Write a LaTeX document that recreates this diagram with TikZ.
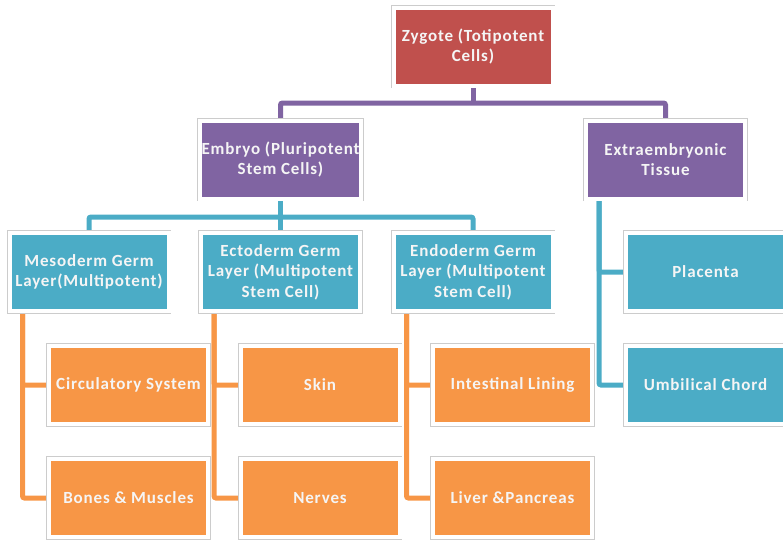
\documentclass[tikz,border=0pt]{standalone}
\usepackage{fontspec}
\setmainfont{Carlito}[LetterSpace=5]
\usepackage{tikz}
\usetikzlibrary{backgrounds}

\definecolor{zygred}{HTML}{C0504D}
\definecolor{embpurple}{HTML}{8064A2}
\definecolor{germblue}{HTML}{4BACC6}
\definecolor{organorange}{HTML}{F79646}

\begin{document}
\begin{tikzpicture}[x=1pt, y=-1pt,
    cell/.style={draw=white, line width=4, minimum width=159, minimum height=78, inner sep=2,
        align=center, text=white!96!black, font=\fontsize{17}{20.5}\selectfont\bfseries,
        preaction={draw=black!20, line width=5.5}},
    link/.style={line width=5, rounded corners=2}]
    \useasboundingbox (0,0) rectangle (783,539);

    \node[cell, fill=zygred] (zyg) at (473,46.5) {Zygote (Totipotent\\Cells)};
    \node[cell, fill=embpurple] (emb) at (280.5,159.5) {Embryo (Pluripotent\\Stem Cells)};
    \node[cell, fill=embpurple] (ext) at (665.5,159.5) {Extraembryonic\\Tissue};

    \node[cell, fill=germblue] (meso) at (89,272) {Mesoderm Germ\\Layer(Multipotent)};
    \node[cell, fill=germblue] (ecto) at (280.5,272) {Ectoderm Germ\\Layer (Multipotent\\Stem Cell)};
    \node[cell, fill=germblue] (endo) at (473,272) {Endoderm Germ\\Layer (Multipotent\\Stem Cell)};
    \node[cell, fill=germblue] (plac) at (705.5,272) {Placenta};
    \node[cell, fill=germblue] (umb) at (705.5,385) {Umbilical Chord};

    \node[cell, fill=organorange] (circ) at (128.5,385) {Circulatory System};
    \node[cell, fill=organorange] (bones) at (128.5,498) {Bones \& Muscles};
    \node[cell, fill=organorange] (skin) at (320,385) {Skin};
    \node[cell, fill=organorange] (nerves) at (320,498) {Nerves};
    \node[cell, fill=organorange] (gut) at (512.5,385) {Intestinal Lining};
    \node[cell, fill=organorange] (liver) at (512.5,498) {Liver \&Pancreas};

    \coordinate (busA) at (0,103);
    \coordinate (busB) at (0,217);

    \begin{scope}[on background layer]
        % zygote level
        \draw[link, embpurple] (emb.north) |- (busA -| zyg) -| (ext.north);
        \draw[link, embpurple] (zyg.south) -- (zyg.south |- busA);
        % germ layers
        \draw[link, germblue] (meso.north) |- (busB -| emb) -| (endo.north);
        \draw[link, germblue] (emb.south) -- (ecto.north);
        \draw[link, germblue] ([xshift=15]ext.south west) |- (plac.west);
        \draw[link, germblue] ([xshift=15]ext.south west) |- (umb.west);
        % organs
        \foreach \g/\a/\b in {meso/circ/bones, ecto/skin/nerves, endo/gut/liver} {
            \draw[link, organorange] ([xshift=15]\g.south west) |- (\a.west);
            \draw[link, organorange] ([xshift=15]\g.south west) |- (\b.west);
        }
    \end{scope}
\end{tikzpicture}
\end{document}
